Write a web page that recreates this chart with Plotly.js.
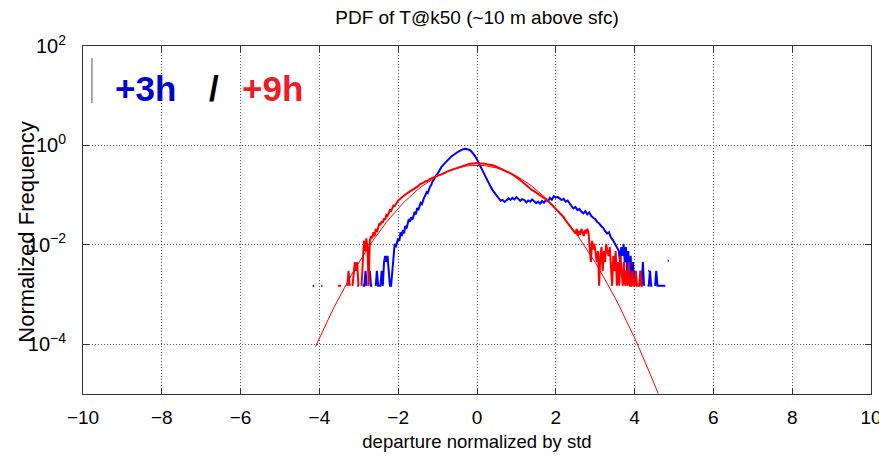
<!DOCTYPE html>
<html>
<head>
<meta charset="utf-8">
<script src="https://cdn.plot.ly/plotly-3.0.1.min.js"></script>
<style>html,body{margin:0;padding:0;background:#fff;}#chart{width:879px;height:457px;}</style>
</head>
<body>
<div id="chart"></div>
<script>
// ---- data ----
var blueX = [-4.17,-4.13,-4.10,-3.04,-3.00,-2.97,-2.90,-2.86,-2.83,-2.80,-2.77,-2.72,-2.69,-2.66,-2.63,-2.57,-2.54,-2.51,-2.48,-2.45,-2.42,-2.39,-2.36,-2.33,-2.30,-2.27,-2.24,-2.21,-2.18,-2.15,-2.12,-2.09,-2.06,-2.03,-2.00,-1.97,-1.94,-1.91,-1.88,-1.85,-1.82,-1.79,-1.76,-1.73,-1.70,-1.67,-1.64,-1.61,-1.58,-1.55,-1.52,-1.49,-1.46,-1.43,-1.40,-1.37,-1.34,-1.31,-1.28,-1.25,-1.22,-1.19,-1.16,-1.13,-1.10,-1.07,-1.04,-1.00,-0.95,-0.90,-0.85,-0.80,-0.75,-0.70,-0.65,-0.60,-0.55,-0.50,-0.45,-0.40,-0.35,-0.30,-0.25,-0.20,-0.15,-0.10,-0.05,0.00,0.05,0.10,0.15,0.20,0.25,0.30,0.35,0.40,0.45,0.50,0.55,0.60,0.65,0.70,0.75,0.80,0.85,0.90,0.95,1.00,1.05,1.10,1.15,1.20,1.25,1.30,1.35,1.40,1.45,1.50,1.55,1.60,1.65,1.70,1.75,1.80,1.85,1.90,1.95,2.00,2.05,2.10,2.15,2.20,2.25,2.30,2.35,2.40,2.45,2.50,2.55,2.60,2.65,2.70,2.75,2.80,2.85,2.90,2.95,3.00,3.05,3.10,3.15,3.20,3.25,3.30,3.35,3.40,3.45,3.50,3.55,3.60,3.63,3.66,3.69,3.72,3.75,3.78,3.81,3.84,3.87,3.90,3.93,3.96,3.99,4.02,4.05,4.08,4.12,4.15,4.18,4.21,4.24,4.27,4.33,4.36,4.39,4.42,4.45,4.48,4.52,4.55,4.58,4.62,4.66,4.70,4.74,4.78,4.81,4.84,4.87];
var blueY = [0.0015,0.0015,null,0.0015,0.0015,null,0.0015,0.0015,0.003,0.0015,null,0.003,0.0015,0.0015,null,0.0015,0.003,0.0015,0.0015,0.0015,0.003,0.0015,0.0045,0.006,0.0045,0.006,0.003,0.0015,0.0015,0.003,0.0075,0.0105,0.009,0.012,0.0135,0.012,0.018,0.015,0.02,0.017,0.024,0.021,0.027,0.033,0.029,0.036,0.032,0.04,0.046,0.041,0.055,0.05,0.063,0.07,0.066,0.082,0.09,0.1,0.115,0.11,0.13,0.15,0.16,0.19,0.2,0.23,0.25,0.27,0.32,0.37,0.41,0.46,0.5,0.55,0.6,0.65,0.69,0.73,0.77,0.81,0.84,0.86,0.85,0.82,0.77,0.7,0.61,0.52,0.43,0.36,0.29,0.24,0.2,0.17,0.145,0.125,0.11,0.095,0.085,0.077,0.08,0.073,0.079,0.086,0.08,0.088,0.082,0.091,0.084,0.077,0.083,0.08,0.071,0.078,0.074,0.082,0.075,0.069,0.074,0.067,0.076,0.07,0.08,0.075,0.088,0.081,0.095,0.089,0.092,0.084,0.08,0.084,0.074,0.078,0.067,0.06,0.054,0.058,0.05,0.053,0.046,0.043,0.048,0.041,0.045,0.038,0.035,0.033,0.029,0.027,0.024,0.022,0.019,0.017,0.018,0.014,0.0125,0.0105,0.009,0.0075,0.0045,0.009,0.006,0.0105,0.0045,0.009,0.003,0.0075,0.0015,0.006,0.0015,0.0045,0.0015,0.003,0.0015,null,0.0015,0.003,0.0015,0.0045,0.0015,null,0.0015,0.0015,0.003,0.0015,0.0015,null,0.0015,0.003,0.0015,0.0015,0.0015,0.0015,0.0015,0.0015,null,0.0048,0.0048];

var redX = [-3.96,-3.92,-3.89,-3.53,-3.49,-3.45,-3.42,-3.29,-3.26,-3.23,-3.20,-3.16,-3.13,-3.10,-3.07,-3.04,-3.01,-2.98,-2.93,-2.90,-2.87,-2.84,-2.81,-2.78,-2.75,-2.72,-2.69,-2.66,-2.63,-2.60,-2.57,-2.54,-2.51,-2.48,-2.45,-2.42,-2.39,-2.36,-2.33,-2.30,-2.27,-2.24,-2.21,-2.18,-2.15,-2.12,-2.09,-2.06,-2.03,-2.00,-1.95,-1.90,-1.85,-1.80,-1.75,-1.70,-1.65,-1.60,-1.55,-1.50,-1.45,-1.40,-1.35,-1.30,-1.25,-1.20,-1.15,-1.10,-1.05,-1.00,-0.95,-0.90,-0.85,-0.80,-0.75,-0.70,-0.65,-0.60,-0.55,-0.50,-0.45,-0.40,-0.35,-0.30,-0.25,-0.20,-0.15,-0.10,-0.05,0.00,0.05,0.10,0.15,0.20,0.25,0.30,0.35,0.40,0.45,0.50,0.55,0.60,0.65,0.70,0.75,0.80,0.85,0.90,0.95,1.00,1.05,1.10,1.15,1.20,1.25,1.30,1.35,1.40,1.45,1.50,1.55,1.60,1.65,1.70,1.75,1.80,1.85,1.90,1.95,2.00,2.05,2.10,2.15,2.20,2.25,2.30,2.35,2.40,2.45,2.50,2.53,2.56,2.59,2.62,2.65,2.68,2.71,2.74,2.77,2.80,2.83,2.86,2.89,2.92,2.95,2.98,3.01,3.04,3.07,3.10,3.13,3.16,3.19,3.22,3.25,3.28,3.31,3.34,3.37,3.40,3.43,3.46,3.49,3.52,3.55,3.58,3.61,3.64,3.67,3.70,3.73,3.76,3.79,3.82,3.85,3.88,3.91,3.94,3.97,4.00,4.03,4.06,4.09,4.12,4.15,4.18,4.21,4.24,4.34,4.37];
var redY = [0.0015,0.0015,null,0.0015,0.0015,0.0015,null,0.0015,0.003,0.0015,null,0.0015,0.003,0.0045,0.003,0.0045,0.0015,null,0.0015,0.006,0.012,0.0075,0.0135,0.009,0.0015,0.012,0.015,0.0135,0.018,0.015,0.021,0.018,0.024,0.027,0.025,0.03,0.028,0.034,0.032,0.04,0.038,0.045,0.05,0.048,0.056,0.062,0.06,0.068,0.072,0.078,0.085,0.092,0.1,0.105,0.112,0.118,0.125,0.13,0.14,0.15,0.165,0.17,0.18,0.19,0.195,0.21,0.22,0.225,0.235,0.245,0.255,0.262,0.27,0.285,0.3,0.31,0.32,0.335,0.34,0.35,0.37,0.38,0.39,0.405,0.415,0.425,0.43,0.44,0.445,0.445,0.44,0.44,0.435,0.43,0.42,0.415,0.41,0.4,0.385,0.37,0.36,0.345,0.33,0.32,0.305,0.29,0.275,0.26,0.245,0.235,0.215,0.2,0.185,0.168,0.155,0.143,0.133,0.126,0.12,0.113,0.106,0.1,0.093,0.087,0.082,0.077,0.07,0.064,0.058,0.053,0.048,0.043,0.039,0.036,0.031,0.027,0.025,0.021,0.019,0.017,0.021,0.015,0.019,0.016,0.021,0.018,0.015,0.02,0.017,0.021,0.018,0.009,0.0045,0.012,0.008,0.0105,0.006,0.0045,0.0075,0.0015,0.006,0.009,0.003,0.0075,0.0045,0.0105,0.0075,0.006,0.009,0.0045,0.0015,0.006,0.003,0.0075,0.0015,0.0045,0.0015,0.006,0.003,0.0015,0.0045,0.0015,0.003,0.0015,0.0045,0.0015,0.0015,0.003,0.0015,0.0015,0.003,0.0015,0.0015,0.0015,0.003,0.0015,0.0015,null,0.003,0.003];

var fitX = [-4.1,-4.0,-3.9,-3.8,-3.7,-3.6,-3.5,-3.4,-3.3,-3.2,-3.1,-3.0,-2.9,-2.8,-2.7,-2.6,-2.5,-2.4,-2.3,-2.2,-2.1,-2.0,-1.9,-1.8,-1.7,-1.6,-1.5,-1.4,-1.3,-1.2,-1.1,-1.0,-0.9,-0.8,-0.7,-0.6,-0.5,-0.4,-0.3,-0.2,-0.1,0.0,0.1,0.2,0.3,0.4,0.5,0.6,0.7,0.8,0.9,1.0,1.1,1.2,1.3,1.4,1.5,1.6,1.7,1.8,1.9,2.0,2.1,2.2,2.3,2.4,2.5,2.6,2.7,2.8,2.9,3.0,3.1,3.2,3.3,3.4,3.5,3.6,3.7,3.8,3.9,4.0,4.1,4.2,4.3,4.4,4.5,4.6];
var fitY = [8.92e-5,1.338e-4,1.987e-4,2.919e-4,4.248e-4,6.119e-4,8.727e-4,1.232e-3,1.723e-3,2.384e-3,3.267e-3,4.432e-3,5.953e-3,7.915e-3,0.01042,0.01358,0.01753,0.0224,0.02833,0.03547,0.04398,0.05399,0.06562,0.07895,0.09405,0.1109,0.1295,0.1497,0.1714,0.1942,0.2179,0.242,0.2661,0.2897,0.3123,0.3332,0.3521,0.3683,0.3814,0.391,0.397,0.3989,0.397,0.391,0.3814,0.3683,0.3521,0.3332,0.3123,0.2897,0.2661,0.242,0.2179,0.1942,0.1714,0.1497,0.1295,0.1109,0.09405,0.07895,0.06562,0.05399,0.04398,0.03547,0.02833,0.0224,0.01753,0.01358,0.01042,7.915e-3,5.953e-3,4.432e-3,3.267e-3,2.384e-3,1.723e-3,1.232e-3,8.727e-4,6.119e-4,4.248e-4,2.919e-4,1.987e-4,1.338e-4,8.92e-5,5.894e-5,3.854e-5,2.494e-5,1.598e-5,1.014e-5];

var xTickVals = [-10,-8,-6,-4,-2,0,2,4,6,8,10];
var xTickText = ['\u221210','\u22128','\u22126','\u22124','\u22122','0','2','4','6','8','10'];
var yTickVals = [1e-4, 1e-2, 1, 100];
var yTickText = ['10<sup>\u22124</sup>', '10<sup>\u22122</sup>', '10<sup>0</sup>', '10<sup>2</sup>'];

var titleText = 'PDF of T@k50 (~10 m above sfc)';
var xTitle = 'departure normalized by std';
var yTitle = 'Normalized Frequency';
var label3h = '+3h';
var labelSlash = '/';
var label9h = '+9h';

var FONT = '"Liberation Sans", Arial, sans-serif';

var traces = [
  {x: blueX, y: blueY, type: 'scatter', mode: 'lines', connectgaps: false,
   line: {color: '#0000ff', width: 2}, hoverinfo: 'skip'},
  {x: redX, y: redY, type: 'scatter', mode: 'lines', connectgaps: false,
   line: {color: '#ff0000', width: 2}, hoverinfo: 'skip'},
  {x: fitX, y: fitY, type: 'scatter', mode: 'lines',
   line: {color: '#ff0000', width: 1}, hoverinfo: 'skip'}
];

var layout = {
  width: 879, height: 457,
  margin: {l: 83, r: 8, t: 46, b: 63, pad: 0},
  paper_bgcolor: '#ffffff', plot_bgcolor: '#ffffff',
  showlegend: false,
  font: {family: FONT, color: '#000000'},
  title: {text: titleText, font: {family: FONT, size: 19, color: '#000'},
          x: 0.5, xref: 'paper', xanchor: 'center', y: 0.962, yref: 'container', yanchor: 'middle'},
  xaxis: {
    range: [-10, 10], tickmode: 'array', tickvals: xTickVals, ticktext: xTickText,
    showgrid: true, gridcolor: '#555', griddash: '1px,2px', gridwidth: 1,
    zeroline: false, showline: true, linecolor: '#333', linewidth: 1,
    mirror: 'allticks', ticks: 'inside', ticklen: 6, tickcolor: '#333', tickwidth: 1,
    tickfont: {family: FONT, size: 19, color: '#000'}, ticklabelstandoff: 6,
    ticklabeloverflow: 'allow',
    title: {text: xTitle, font: {family: FONT, size: 18.5, color: '#000'}, standoff: 8},
    automargin: false
  },
  yaxis: {
    type: 'log', range: [-5, 2], tickmode: 'array', tickvals: yTickVals, ticktext: yTickText,
    showgrid: true, gridcolor: '#555', griddash: '1px,2px', gridwidth: 1,
    zeroline: false, showline: true, linecolor: '#333', linewidth: 1,
    mirror: 'allticks', ticks: 'inside', ticklen: 6, tickcolor: '#333', tickwidth: 1,
    tickfont: {family: FONT, size: 20, color: '#000'}, ticklabelstandoff: 12,
    automargin: false
  },
  shapes: [
    {type: 'line', xref: 'paper', yref: 'paper', x0: 0.0114, x1: 0.0114, y0: 0.836, y1: 0.9655,
     line: {color: '#555', width: 1}}
  ],
  annotations: [
    {text: yTitle, xref: 'paper', yref: 'paper', x: 0, y: 0.465, xanchor: 'left', yanchor: 'middle',
     xshift: -71, textangle: -90, showarrow: false, font: {family: FONT, size: 22, color: '#000'}},
    {text: label3h, xref: 'paper', yref: 'paper', x: 0.0793, y: 0.877, xanchor: 'center', yanchor: 'middle',
     showarrow: false, font: {family: FONT, size: 35, color: '#0000cc', weight: 'bold'}},
    {text: labelSlash, xref: 'paper', yref: 'paper', x: 0.166, y: 0.877, xanchor: 'center', yanchor: 'middle',
     showarrow: false, font: {family: FONT, size: 35, color: '#000000', weight: 'bold'}},
    {text: label9h, xref: 'paper', yref: 'paper', x: 0.241, y: 0.877, xanchor: 'center', yanchor: 'middle',
     showarrow: false, font: {family: FONT, size: 35, color: '#ee1c24', weight: 'bold'}}
  ]
};

Plotly.newPlot('chart', traces, layout, {displayModeBar: false, staticPlot: true});
</script>
</body>
</html>
